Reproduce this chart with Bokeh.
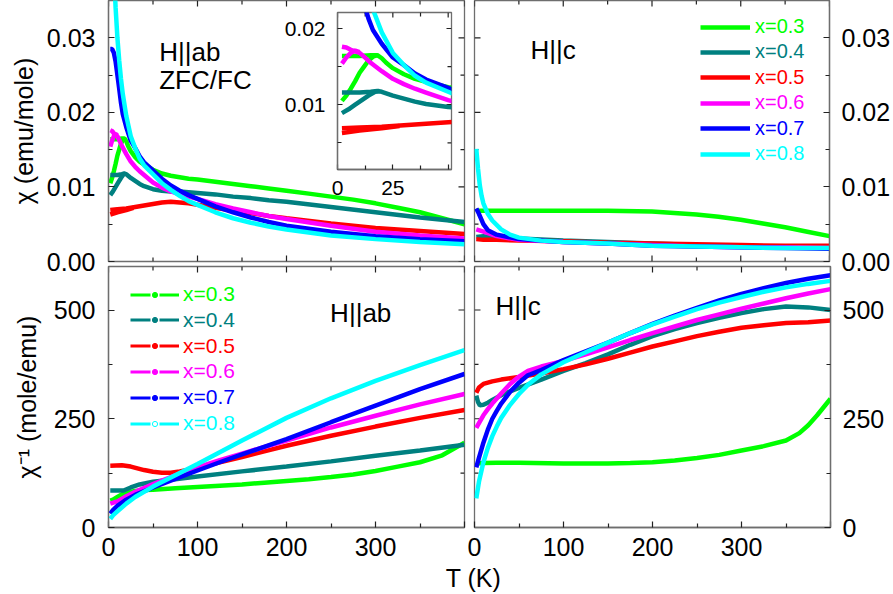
import math

from bokeh.plotting import figure
from bokeh.models import (Range1d, LinearAxis, FixedTicker, PrintfTickFormatter,
                          Legend, LegendItem, Label, GridBox)
from bokeh.core.properties import value
from bokeh.embed import file_html
from bokeh.resources import INLINE

FONT = "Liberation Sans"
COLORS = ["#00ff00", "#008080", "#ff0000", "#ff00ff", "#0000ff", "#00ffff"]
LABELS = ["x=0.3", "x=0.4", "x=0.5", "x=0.6", "x=0.7", "x=0.8"]

# ---- chi, H||ab (emu/mole): field-cooled / high-T branch, (T [K], chi) ----
ab_x03 = [(2, 0.0164), (5, 0.0164), (10, 0.0164), (15, 0.0165), (18, 0.0165), (20, 0.0161),
          (22, 0.0155), (25, 0.0148), (30, 0.0140), (35, 0.0134), (40, 0.0130), (50, 0.0123),
          (60, 0.0118), (70, 0.0115), (80, 0.0113), (90, 0.0111), (100, 0.0110), (120, 0.0107),
          (140, 0.0104), (160, 0.0101), (180, 0.0098), (200, 0.0095), (225, 0.0091), (250, 0.0087),
          (275, 0.0083), (300, 0.0078), (325, 0.0072), (350, 0.0066), (375, 0.0058), (400, 0.0050)]
ab_x04 = [(2, 0.0116), (5, 0.0116), (10, 0.0116), (15, 0.0117), (18, 0.0118), (20, 0.0117),
          (25, 0.0112), (30, 0.0108), (35, 0.0104), (40, 0.0101), (50, 0.0097), (60, 0.0095),
          (70, 0.0094), (80, 0.0094), (90, 0.0093), (100, 0.0092), (120, 0.0090), (140, 0.0087),
          (160, 0.0085), (180, 0.0082), (200, 0.0080), (250, 0.0073), (300, 0.0066), (350, 0.0059),
          (400, 0.0053)]
ab_x05 = [(2, 0.0069), (10, 0.0070), (20, 0.0071), (30, 0.0073), (40, 0.0075), (50, 0.0077),
          (60, 0.0079), (70, 0.0080), (80, 0.0079), (90, 0.0078), (100, 0.0076), (120, 0.0072),
          (140, 0.0068), (160, 0.0065), (180, 0.0061), (200, 0.0058), (250, 0.0051), (300, 0.0045),
          (350, 0.0041), (400, 0.0037)]
ab_x06 = [(2, 0.0176), (4, 0.0175), (6, 0.0172), (8, 0.0170), (10, 0.0168), (12, 0.0163),
          (15, 0.0155), (20, 0.0144), (25, 0.0134), (30, 0.0127), (35, 0.0121), (40, 0.0116),
          (50, 0.0106), (60, 0.0099), (70, 0.0094), (80, 0.0090), (90, 0.0087), (100, 0.0084),
          (120, 0.0077), (140, 0.0071), (160, 0.0066), (180, 0.0061), (200, 0.0057), (250, 0.0048),
          (300, 0.0040), (350, 0.0035), (400, 0.0031)]
ab_x07 = [(2, 0.0285), (4, 0.0285), (6, 0.0280), (8, 0.0268), (10, 0.0250), (12, 0.0232),
          (14, 0.0213), (16, 0.0198), (20, 0.0180), (25, 0.0162), (30, 0.0152), (35, 0.0141),
          (40, 0.0133), (50, 0.0122), (60, 0.0111), (70, 0.0102), (80, 0.0095), (90, 0.0089),
          (100, 0.0084), (120, 0.0074), (140, 0.0066), (160, 0.0059), (180, 0.0053), (200, 0.0048),
          (250, 0.0040), (300, 0.0034), (350, 0.0030), (400, 0.0027)]
ab_x08 = [(2, 0.050), (4, 0.045), (6, 0.039), (8, 0.034), (10, 0.030), (12, 0.027),
          (14, 0.0245), (16, 0.0225), (20, 0.0195), (25, 0.0168), (30, 0.0152), (35, 0.0138),
          (40, 0.0129), (50, 0.0117), (60, 0.0105), (70, 0.0096), (80, 0.0088), (90, 0.0081),
          (100, 0.0076), (120, 0.0066), (140, 0.0058), (160, 0.0052), (180, 0.0047), (200, 0.0043),
          (250, 0.0035), (300, 0.0030), (350, 0.0026), (400, 0.0023)]

# zero-field-cooled low-T branches, H||ab
ab_zfc_x03 = [(2, 0.0105), (4, 0.0112), (6, 0.0121), (8, 0.0131), (10, 0.0142), (12, 0.0150),
              (14, 0.0158), (16, 0.0163), (18, 0.0165)]
ab_zfc_x04 = [(2, 0.0089), (5, 0.0094), (8, 0.0100), (11, 0.0106), (14, 0.0112), (17, 0.0117),
              (19, 0.0118)]
ab_zfc_x05 = [(2, 0.0063), (10, 0.0066), (20, 0.0069), (28, 0.0072)]
ab_zfc_x06 = [(2, 0.0154), (4, 0.0162), (6, 0.0168), (8, 0.0171), (10, 0.0169)]

# ---- chi, H||c (emu/mole) ----
c_x03 = [(2, 0.0068), (25, 0.0068), (50, 0.0068), (100, 0.0068), (150, 0.0068), (200, 0.0067),
         (225, 0.0065), (250, 0.0063), (275, 0.0060), (300, 0.0056), (325, 0.0051), (350, 0.0046),
         (375, 0.0040), (400, 0.0034)]
c_x04 = [(2, 0.0033), (10, 0.0034), (25, 0.0032), (50, 0.0031), (100, 0.0028), (150, 0.0026),
         (200, 0.0024), (250, 0.0022), (300, 0.0021), (350, 0.0020), (400, 0.0020)]
c_x05 = [(2, 0.0030), (10, 0.0029), (25, 0.0029), (50, 0.0028), (100, 0.0027), (150, 0.0025),
         (200, 0.0024), (250, 0.0023), (300, 0.0022), (350, 0.0021), (400, 0.0021)]
c_x06 = [(2, 0.0043), (10, 0.0040), (25, 0.0034), (50, 0.0029), (100, 0.0026), (150, 0.0024),
         (200, 0.0022), (250, 0.0020), (300, 0.0019), (350, 0.0019), (400, 0.0018)]
c_x07 = [(2, 0.0071), (5, 0.0064), (10, 0.0050), (15, 0.0042), (25, 0.0036), (50, 0.0030),
         (100, 0.0026), (150, 0.0024), (200, 0.0021), (250, 0.0020), (300, 0.0019), (350, 0.0018),
         (400, 0.0017)]
c_x08 = [(2, 0.0151), (4, 0.0124), (6, 0.0102), (8, 0.0088), (10, 0.0078), (15, 0.0064),
         (20, 0.0055), (30, 0.0043), (40, 0.0036), (50, 0.0032), (75, 0.0028), (100, 0.0026),
         (150, 0.0024), (200, 0.0021), (250, 0.0020), (300, 0.0019), (350, 0.0018), (400, 0.0018)]

# ---- inverse chi, H||ab (mole/emu) ----
iab_x03 = [(2, 62), (5, 64), (10, 70), (15, 76), (20, 80), (30, 84), (40, 86), (50, 87), (75, 90),
           (100, 93), (125, 96), (150, 99), (175, 103), (200, 107), (225, 111), (250, 116),
           (275, 122), (300, 130), (325, 140), (350, 150), (375, 166), (400, 195)]
iab_x04 = [(2, 85), (10, 85), (17, 85), (25, 92), (35, 99), (50, 105), (75, 111), (100, 117),
           (150, 129), (200, 140), (250, 152), (300, 165), (350, 177), (400, 190)]
iab_x05 = [(2, 142), (15, 143), (25, 140), (40, 132), (50, 128), (60, 126), (70, 126), (80, 129),
           (100, 137), (125, 150), (150, 162), (175, 175), (200, 188), (250, 211), (300, 232),
           (350, 252), (400, 270)]
iab_x06 = [(2, 55), (10, 60), (20, 72), (30, 82), (50, 100), (75, 120), (100, 138), (125, 155),
           (150, 170), (200, 200), (250, 230), (300, 257), (350, 283), (400, 307)]
iab_x07 = [(2, 32), (5, 40), (10, 50), (20, 64), (30, 75), (50, 92), (75, 112), (100, 131),
           (125, 150), (150, 168), (200, 203), (250, 242), (300, 280), (350, 318), (400, 353)]
iab_x08 = [(2, 20), (5, 28), (10, 37), (20, 55), (30, 70), (50, 94), (75, 120), (100, 146),
           (125, 173), (150, 200), (200, 252), (250, 297), (300, 337), (350, 373), (400, 408)]

# ---- inverse chi, H||c (mole/emu) ----
ic_x03 = [(2, 147), (10, 148), (25, 149), (50, 149), (100, 147), (150, 147), (175, 148), (200, 150),
          (225, 154), (250, 160), (275, 167), (300, 177), (325, 187), (350, 200), (365, 217),
          (375, 235), (385, 258), (400, 296)]
ic_x04 = [(2, 303), (4, 288), (6, 281), (10, 282), (15, 287), (20, 293), (30, 304), (40, 313),
          (50, 321), (75, 340), (100, 360), (125, 378), (150, 398), (175, 420), (200, 440),
          (225, 456), (250, 470), (275, 482), (300, 493), (325, 502), (350, 508), (375, 506),
          (400, 500)]
ic_x05 = [(2, 310), (5, 322), (10, 330), (20, 336), (30, 340), (50, 346), (75, 354), (100, 364),
          (125, 375), (150, 388), (175, 402), (200, 416), (225, 428), (250, 440), (275, 450),
          (300, 459), (325, 465), (350, 470), (375, 472), (400, 476)]
ic_x06 = [(2, 229), (5, 240), (10, 258), (15, 272), (20, 285), (30, 308), (40, 330), (50, 347),
          (60, 360), (75, 370), (100, 383), (125, 398), (150, 414), (175, 431), (200, 447),
          (225, 462), (250, 477), (275, 490), (300, 503), (325, 515), (350, 527), (375, 538),
          (400, 548)]
ic_x07 = [(2, 138), (5, 160), (10, 195), (15, 225), (20, 250), (25, 268), (30, 285), (40, 312),
          (50, 333), (60, 350), (75, 362), (100, 385), (125, 405), (150, 425), (175, 447),
          (200, 468), (225, 487), (250, 505), (275, 522), (300, 537), (325, 550), (350, 562),
          (375, 572), (400, 580)]
ic_x08 = [(2, 67), (5, 105), (10, 150), (15, 183), (20, 210), (25, 232), (30, 252), (40, 282),
          (50, 307), (60, 328), (75, 352), (100, 380), (125, 403), (150, 425), (175, 447),
          (200, 467), (225, 485), (250, 502), (275, 517), (300, 530), (325, 542), (350, 552),
          (375, 560), (400, 567)]

CHI_AB = [ab_x03, ab_x04, ab_x05, ab_x06, ab_x07, ab_x08]
CHI_AB_ZFC = [ab_zfc_x03, ab_zfc_x04, ab_zfc_x05, ab_zfc_x06, None, None]
CHI_C = [c_x03, c_x04, c_x05, c_x06, c_x07, c_x08]
INV_AB = [iab_x03, iab_x04, iab_x05, iab_x06, iab_x07, iab_x08]
INV_C = [ic_x03, ic_x04, ic_x05, ic_x06, ic_x07, ic_x08]

T_TICKS = [0, 100, 200, 300, 400]
T_MINOR = [50, 150, 250, 350]
CHI_TICKS = [0.0, 0.01, 0.02, 0.03]
CHI_MINOR = [0.005, 0.015, 0.025]
INV_TICKS = [0, 250, 500]
INV_MINOR = [125, 375]
INSET_T_TICKS = [0, 25, 50]
INSET_T_MINOR = [12.5, 37.5]
INSET_CHI_TICKS = [0.01, 0.02]
INSET_CHI_MINOR = [0.005, 0.015]

T_RANGE = (0, 400)
CHI_RANGE = (0, 0.035)
INV_RANGE = (0, 600)
INSET_T_RANGE = (0, 51.5)
INSET_CHI_RANGE = (0.0015, 0.0221)

PAGE_W, PAGE_H = 893, 594
LW = 4.5
FRAME_COLOR = "#6e6e6e"
TICK_COLOR = "#222222"
MAJOR_LEN, MINOR_LEN = 6, 4


def unzip(pairs):
    return [a for a, _ in pairs], [b for _, b in pairs]


def panel(xr, yr, box):
    """Full-page transparent canvas whose plot frame occupies box = (x0, y0, x1, y1)."""
    x0, y0, x1, y1 = box
    p = figure(width=PAGE_W, height=PAGE_H, x_range=Range1d(*xr), y_range=Range1d(*yr),
               output_backend="svg", toolbar_location=None,
               x_axis_location=None, y_axis_location=None,
               min_border_left=x0, min_border_right=PAGE_W - x1,
               min_border_top=y0, min_border_bottom=PAGE_H - y1)
    p.frame_align = False
    p.grid.visible = False
    p.outline_line_color = FRAME_COLOR
    p.outline_line_width = 1.3
    p.background_fill_color = "white"
    p.border_fill_color = None
    return p


def add_axis(p, side, ticks, minor, fmt=None, overrides=None, size="25px",
             standoff=12, title=None, title_standoff=5, tick_len=MAJOR_LEN, minor_len=MINOR_LEN):
    ax = LinearAxis(ticker=FixedTicker(ticks=ticks, minor_ticks=minor))
    ax.major_tick_in = tick_len
    ax.major_tick_out = 0
    ax.minor_tick_in = minor_len
    ax.minor_tick_out = 0
    ax.axis_line_color = FRAME_COLOR
    ax.axis_line_width = 1.3
    ax.major_tick_line_color = TICK_COLOR
    ax.minor_tick_line_color = TICK_COLOR
    ax.major_tick_line_width = 1.2
    ax.minor_tick_line_width = 1.2
    ax.major_label_text_font = FONT
    ax.major_label_text_color = "black"
    ax.major_label_text_font_size = size
    ax.major_label_standoff = standoff
    if fmt:
        ax.formatter = PrintfTickFormatter(format=fmt)
    if overrides:
        ax.major_label_overrides = overrides
    if title:
        ax.axis_label = title
        ax.axis_label_text_font = FONT
        ax.axis_label_text_font_size = size
        ax.axis_label_text_font_style = "normal"
        ax.axis_label_text_color = "black"
        ax.axis_label_standoff = title_standoff
    p.add_layout(ax, side)
    return ax


def edge_ticks(p, side, ticks, minor, xr, yr, major_len=MAJOR_LEN, minor_len=MINOR_LEN):
    """Inward tick marks on an unlabelled frame edge."""
    for vals, ln in ((ticks, major_len), (minor, minor_len)):
        n = len(vals)
        if side == "above":
            xs, ys, ang = vals, [yr[1]] * n, -math.pi / 2
        elif side == "below":
            xs, ys, ang = vals, [yr[0]] * n, math.pi / 2
        elif side == "left":
            xs, ys, ang = [xr[0]] * n, vals, 0.0
        else:
            xs, ys, ang = [xr[1]] * n, vals, math.pi
        p.ray(x=xs, y=ys, length=ln, length_units="screen", angle=ang,
              line_color=TICK_COLOR, line_width=1.2)


def one_legend(p, renderers, text, color, x, y, size, glyph_w, glyph_h, standoff):
    lg = Legend(items=[LegendItem(label=value(text), renderers=renderers)], location=(x, y),
                border_line_color=None, background_fill_color=None, background_fill_alpha=0,
                padding=0, margin=0, spacing=0, label_standoff=standoff,
                glyph_width=glyph_w, glyph_height=glyph_h, label_height=glyph_h,
                label_text_font=FONT, label_text_font_size=size, label_text_color=color,
                label_text_baseline="middle")
    p.add_layout(lg)


def panel_text(p, x, y, text, size="26px"):
    p.add_layout(Label(x=x, y=y, text=text, text_font=FONT, text_font_size=size,
                       text_color="black", text_baseline="alphabetic"))


def draw_ab(p):
    for data, zfc, col in zip(CHI_AB, CHI_AB_ZFC, COLORS):
        t, v = unzip(data)
        p.line(t, v, line_color=col, line_width=LW)
        if zfc:
            t, v = unzip(zfc)
            p.line(t, v, line_color=col, line_width=LW)


# --- top left: chi, H||ab ---
p1 = panel(T_RANGE, CHI_RANGE, (108, 0, 464, 261))
add_axis(p1, "left", CHI_TICKS, CHI_MINOR, fmt="%.2f", standoff=13,
         title="\u03c7 (emu/mole)", title_standoff=6)
edge_ticks(p1, "right", CHI_TICKS, CHI_MINOR, T_RANGE, CHI_RANGE)
edge_ticks(p1, "below", T_TICKS, T_MINOR, T_RANGE, CHI_RANGE)
edge_ticks(p1, "above", T_TICKS, T_MINOR, T_RANGE, CHI_RANGE)
draw_ab(p1)
panel_text(p1, 57, 0.0281, "H||ab")
panel_text(p1, 57, 0.0244, "ZFC/FC")

# --- inset: low-temperature detail of H||ab ---
pin = panel(INSET_T_RANGE, INSET_CHI_RANGE, (337, 12, 451, 169))
add_axis(pin, "left", INSET_CHI_TICKS, INSET_CHI_MINOR, fmt="%.2f", size="21px",
         standoff=12, tick_len=5, minor_len=4)
add_axis(pin, "below", INSET_T_TICKS, INSET_T_MINOR, size="21px", standoff=11,
         overrides={50: ""}, tick_len=5, minor_len=4)
edge_ticks(pin, "right", INSET_CHI_TICKS, INSET_CHI_MINOR, INSET_T_RANGE, INSET_CHI_RANGE, 5, 4)
edge_ticks(pin, "above", INSET_T_TICKS, INSET_T_MINOR, INSET_T_RANGE, INSET_CHI_RANGE, 5, 4)
draw_ab(pin)

# --- top right: chi, H||c ---
p2 = panel(T_RANGE, CHI_RANGE, (474, 0, 830, 261))
add_axis(p2, "right", CHI_TICKS, CHI_MINOR, fmt="%.2f", standoff=12)
edge_ticks(p2, "left", CHI_TICKS, CHI_MINOR, T_RANGE, CHI_RANGE)
edge_ticks(p2, "below", T_TICKS, T_MINOR, T_RANGE, CHI_RANGE)
edge_ticks(p2, "above", T_TICKS, T_MINOR, T_RANGE, CHI_RANGE)
c_lines = []
for data, col in zip(CHI_C, COLORS):
    t, v = unzip(data)
    c_lines.append(p2.line(t, v, line_color=col, line_width=LW))
panel_text(p2, 63, 0.0284, "H||c")
for i, (r, lab, col) in enumerate(zip(c_lines, LABELS, COLORS)):
    one_legend(p2, [r], lab, col, 226, 223 - 25.4 * i, "20px", 50, 20, 5)

# --- bottom left: 1/chi, H||ab ---
p3 = panel(T_RANGE, INV_RANGE, (108, 266, 464, 527))
add_axis(p3, "left", INV_TICKS, INV_MINOR, standoff=13,
         title="\u03c7\u207b\u00b9 (mole/emu)", title_standoff=10)
add_axis(p3, "below", T_TICKS, T_MINOR, standoff=10, overrides={400: ""})
edge_ticks(p3, "right", INV_TICKS, INV_MINOR, T_RANGE, INV_RANGE)
edge_ticks(p3, "above", T_TICKS, T_MINOR, T_RANGE, INV_RANGE)
for data, col in zip(INV_AB, COLORS):
    t, v = unzip(data)
    p3.line(t, v, line_color=col, line_width=LW)
panel_text(p3, 249, 493, "H||ab")
nan = float("nan")
for i, (lab, col) in enumerate(zip(LABELS, COLORS)):
    key_line = p3.line([nan], [nan], line_color=col, line_width=3, line_dash="20 9")
    fill = "white" if i == 5 else col
    key_dot = p3.scatter([nan], [nan], marker="circle", fill_color=fill, line_color=col,
                         line_width=1)
    one_legend(p3, [key_line, key_dot], lab, col, 22, 221 - 25.8 * i, "21px", 49, 13, 4)

# --- bottom right: 1/chi, H||c ---
p4 = panel(T_RANGE, INV_RANGE, (474, 266, 830, 527))
add_axis(p4, "right", INV_TICKS, INV_MINOR, standoff=12)
add_axis(p4, "below", T_TICKS, T_MINOR, standoff=10, overrides={400: ""})
edge_ticks(p4, "left", INV_TICKS, INV_MINOR, T_RANGE, INV_RANGE)
edge_ticks(p4, "above", T_TICKS, T_MINOR, T_RANGE, INV_RANGE)
for data, col in zip(INV_C, COLORS):
    t, v = unzip(data)
    p4.line(t, v, line_color=col, line_width=LW)
panel_text(p4, 23.6, 509, "H||c")

# --- shared temperature title across both bottom panels ---
pt = figure(width=PAGE_W, height=PAGE_H, x_range=Range1d(0, PAGE_W), y_range=Range1d(0, PAGE_H),
            output_backend="svg", toolbar_location=None,
            x_axis_location=None, y_axis_location=None,
            min_border_left=0, min_border_right=0, min_border_top=0, min_border_bottom=0)
pt.frame_align = False
pt.grid.visible = False
pt.outline_line_color = None
pt.background_fill_color = None
pt.border_fill_color = None
pt.add_layout(Label(x=473, y=17, text="T (K)", text_font=FONT, text_font_size="25px",
                    text_color="black", text_align="center", text_baseline="alphabetic"))

# all canvases share one cell and are stacked; each one's frame sits at its own box
layout = GridBox(children=[(p1, 0, 0), (pin, 0, 0), (p2, 0, 0), (p3, 0, 0), (p4, 0, 0),
                           (pt, 0, 0)], spacing=0)

open("out.html", "w").write(file_html(layout, INLINE))
